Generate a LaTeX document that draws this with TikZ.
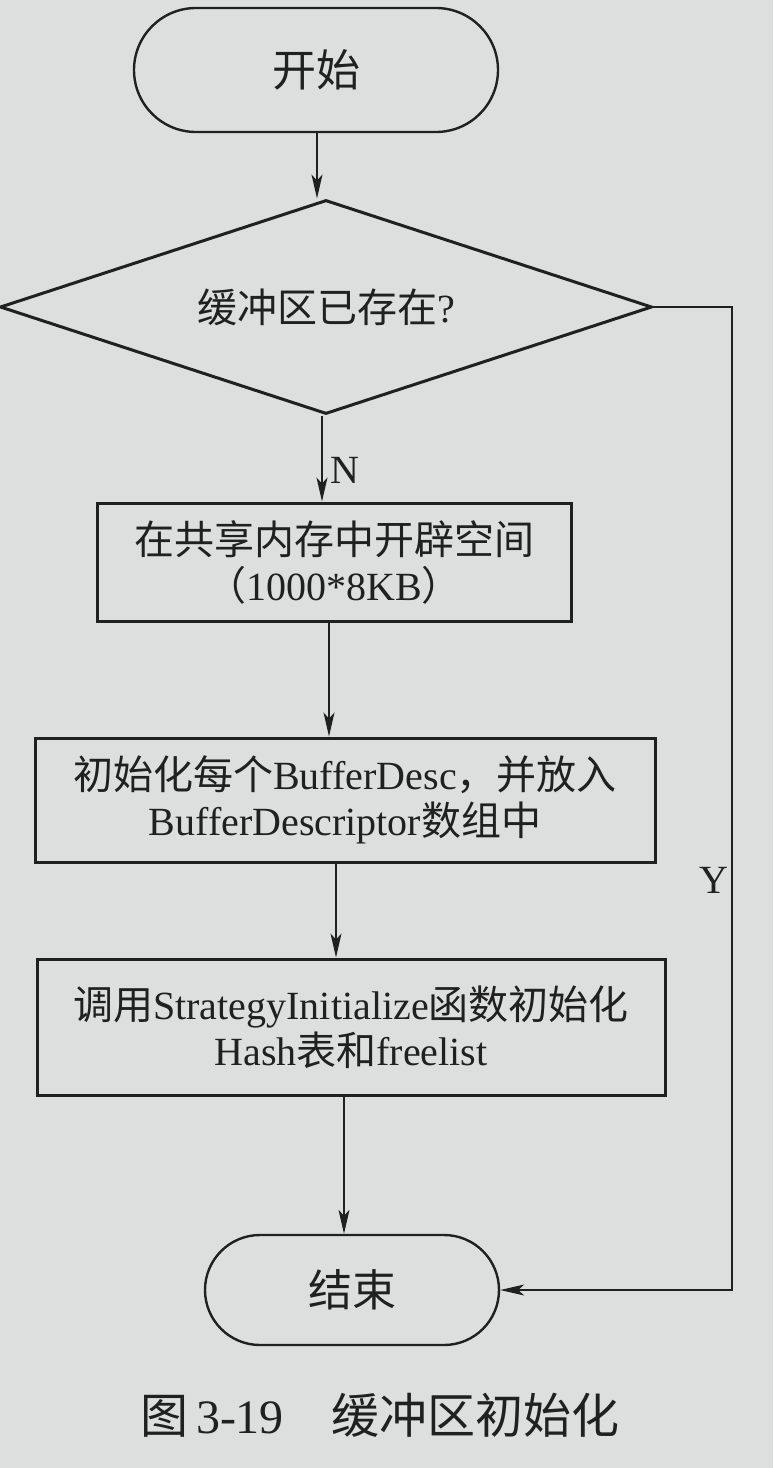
\documentclass[tikz,border=0pt]{standalone}
\usepackage{fontspec}
\setmainfont{Liberation Serif}
\newfontfamily\cjk{Noto Sans CJK SC}
\usetikzlibrary{shapes.geometric,shapes.misc,arrows.meta}

\definecolor{paper}{RGB}{221,223,222}
\definecolor{ink}{RGB}{32,32,32}

\tikzset{
  base/.style={draw=ink, text=ink, align=center, inner sep=0pt,
               font=\fontsize{20pt}{23pt}\selectfont},
  terminal/.style={base, rounded rectangle, line width=1.2pt,
                   font=\fontsize{22pt}{25pt}\selectfont},
  decision/.style={base, diamond, aspect=3, line width=1.5pt},
  process/.style={base, rectangle, line width=1.5pt},
  flow/.style={draw=ink, line width=0.7pt,
               -{Stealth[length=12pt,width=5.5pt,inset=3pt]}},
  tag/.style={text=ink, font=\fontsize{20pt}{23pt}\selectfont}
}

\begin{document}
\begin{tikzpicture}[x=0.5pt,y=-0.5pt]
  % page
  \fill[paper] (0,0) rectangle (773,1468);
  \useasboundingbox (0,0) rectangle (773,1468);

  % flowchart nodes
  \node[terminal, minimum width=182pt, minimum height=62pt] (start) at (316,70)
    {{\cjk 开始}};
  \node[decision, minimum width=326pt, minimum height=107pt] (dec) at (326,307)
    {{\cjk 缓冲区已存在}?};
  \node[process, minimum width=237pt, minimum height=59pt] (alloc) at (334,562)
    {{\cjk 在共享内存中开辟空间}\\{\cjk （}1000*8KB{\cjk ）}};
  \node[process, minimum width=310pt, minimum height=62pt] (desc) at (345,800)
    {{\cjk 初始化每个}BufferDesc{\cjk ，并放入}\\BufferDescriptor{\cjk 数组中}};
  \node[process, minimum width=314pt, minimum height=68pt] (strat) at (351,1027)
    {{\cjk 调用}StrategyInitialize{\cjk 函数初始化}\\Hash{\cjk 表和}freelist};
  \node[terminal, minimum width=147pt, minimum height=55pt] (stop) at (352,1290)
    {{\cjk 结束}};

  % columns of the vertical connectors
  \coordinate (c1) at (317,0);
  \coordinate (c2) at (322,0);
  \coordinate (c3) at (329,0);
  \coordinate (c4) at (336,0);
  \coordinate (c5) at (344,0);

  % main flow
  \draw[flow] (start.south -| c1) -- (dec.north -| c1);
  \draw[flow] (dec.south -| c2) -- (alloc.north -| c2);
  \draw[flow] (alloc.south -| c3) -- (desc.north -| c3);
  \draw[flow] (desc.south -| c4) -- (strat.north -| c4);
  \draw[flow] (strat.south -| c5) -- (stop.north -| c5);
  \node[tag] (nlab) at (345,470) {N};

  % "yes" branch along the right side
  \coordinate (rail) at (732,0);
  \draw[flow] (dec.east) -- (dec.east -| rail) |- (stop.east);
  \node[tag] (ylab) at (714,880) {Y};

  % caption
  \node[text=ink, font=\fontsize{24pt}{27pt}\selectfont] (cap) at (380,1415)
    {{\cjk 图}\,3-19\quad{\cjk 缓冲区初始化}};
\end{tikzpicture}
\end{document}
